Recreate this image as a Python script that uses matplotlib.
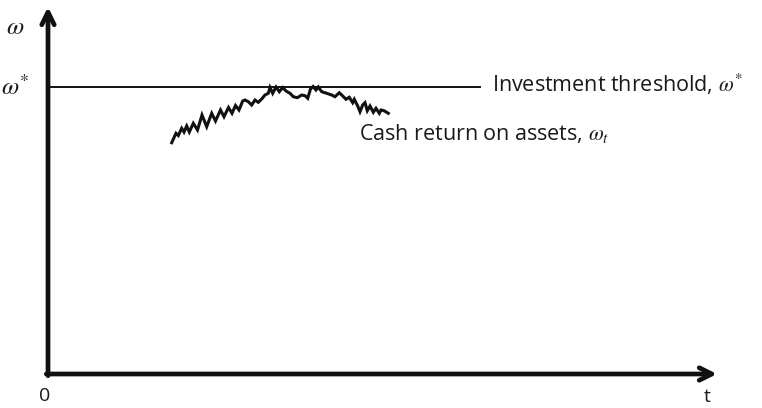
import matplotlib
matplotlib.use("Agg")
import matplotlib.pyplot as plt

# --- data (arbitrary units) ---
t_vals = [123.7, 128.0, 130.3, 133.7, 136.0, 138.7, 141.3, 145.3, 149.5, 154.0,
          158.7, 163.7, 167.5, 172.5, 176.0, 180.5, 184.0, 187.5, 191.0, 194.7,
          197.0, 200.3, 203.7, 207.0, 210.3, 213.7, 217.0, 220.3, 222.0, 224.7,
          228.0, 231.3, 234.7, 238.0, 242.0, 245.3, 249.3, 253.7, 257.0, 259.7,
          262.5, 265.0, 268.0, 270.3, 273.7, 278.7, 283.7, 287.0, 291.3, 294.7,
          298.0, 301.3, 304.7, 306.3, 309.7, 312.0, 314.7, 317.0, 319.3, 322.0,
          325.3, 328.0, 331.3, 333.0, 336.0, 340.3]
omega_vals = [231.3, 240.7, 238.5, 245.7, 242.0, 248.0, 242.0, 250.7, 244.0, 259.0,
              247.3, 260.7, 253.0, 264.0, 257.3, 266.5, 260.7, 268.5, 264.0, 273.0,
              274.0, 272.3, 269.0, 274.0, 271.7, 275.0, 279.0, 280.7, 286.5, 280.7,
              287.0, 282.3, 286.5, 283.0, 280.7, 277.3, 276.3, 279.0, 278.3, 275.7,
              285.0, 287.5, 284.0, 287.0, 282.3, 280.7, 279.0, 277.3, 281.3, 278.0,
              274.7, 276.7, 271.3, 274.7, 268.0, 262.3, 269.0, 271.3, 263.3, 268.0,
              261.7, 265.7, 260.7, 264.0, 263.3, 260.7]
threshold = 287.0
threshold_t_end = 432.0
t_axis_end = 669.0
omega_axis_end = 367.0

plt.rcParams['mathtext.fontset'] = 'stix'
fig = plt.figure(figsize=(7.62, 4.08), dpi=100)
ax = fig.add_axes([0, 0, 1, 1])
ax.set_xlim(-48, 714)
ax.set_ylim(-34, 374)
ax.axis('off')

# axes with arrows
arrow_kw = dict(arrowstyle='->,head_length=0.9,head_width=0.45', lw=3.4, color='#111111',
                shrinkA=0, shrinkB=0)
ax.annotate('', xy=(t_axis_end, 0), xytext=(-1.7, 0), arrowprops=arrow_kw)
ax.annotate('', xy=(0, omega_axis_end), xytext=(0, -1.7), arrowprops=arrow_kw)

# threshold line
ax.plot([0, threshold_t_end], [threshold, threshold], color='#111111', lw=1.4)

# cash return on assets
ax.plot(t_vals, omega_vals, color='#111111', lw=2.2, solid_joinstyle='miter')

font = dict(family='Open Sans', color='#1a1a1a')
ax.text(444, 282, r'Investment threshold, $\omega^{*}$', fontsize=15.5, ha='left',
        va='baseline', **font)
ax.text(311, 234, r'Cash return on assets, $\omega_t$', fontsize=15.5, ha='left',
        va='baseline', **font)
ax.text(-33, 347, r'$\omega$', fontsize=18, ha='center', va='center', color='#1a1a1a')
ax.text(-33, 287, r'$\omega^{*}$', fontsize=18, ha='center', va='center', color='#1a1a1a')
ax.text(-3, -22, '0', fontsize=14, ha='center', va='center', **font)
ax.text(659, -23, 't', fontsize=14, ha='center', va='center', **font)

fig.savefig('out.png', dpi=100)
